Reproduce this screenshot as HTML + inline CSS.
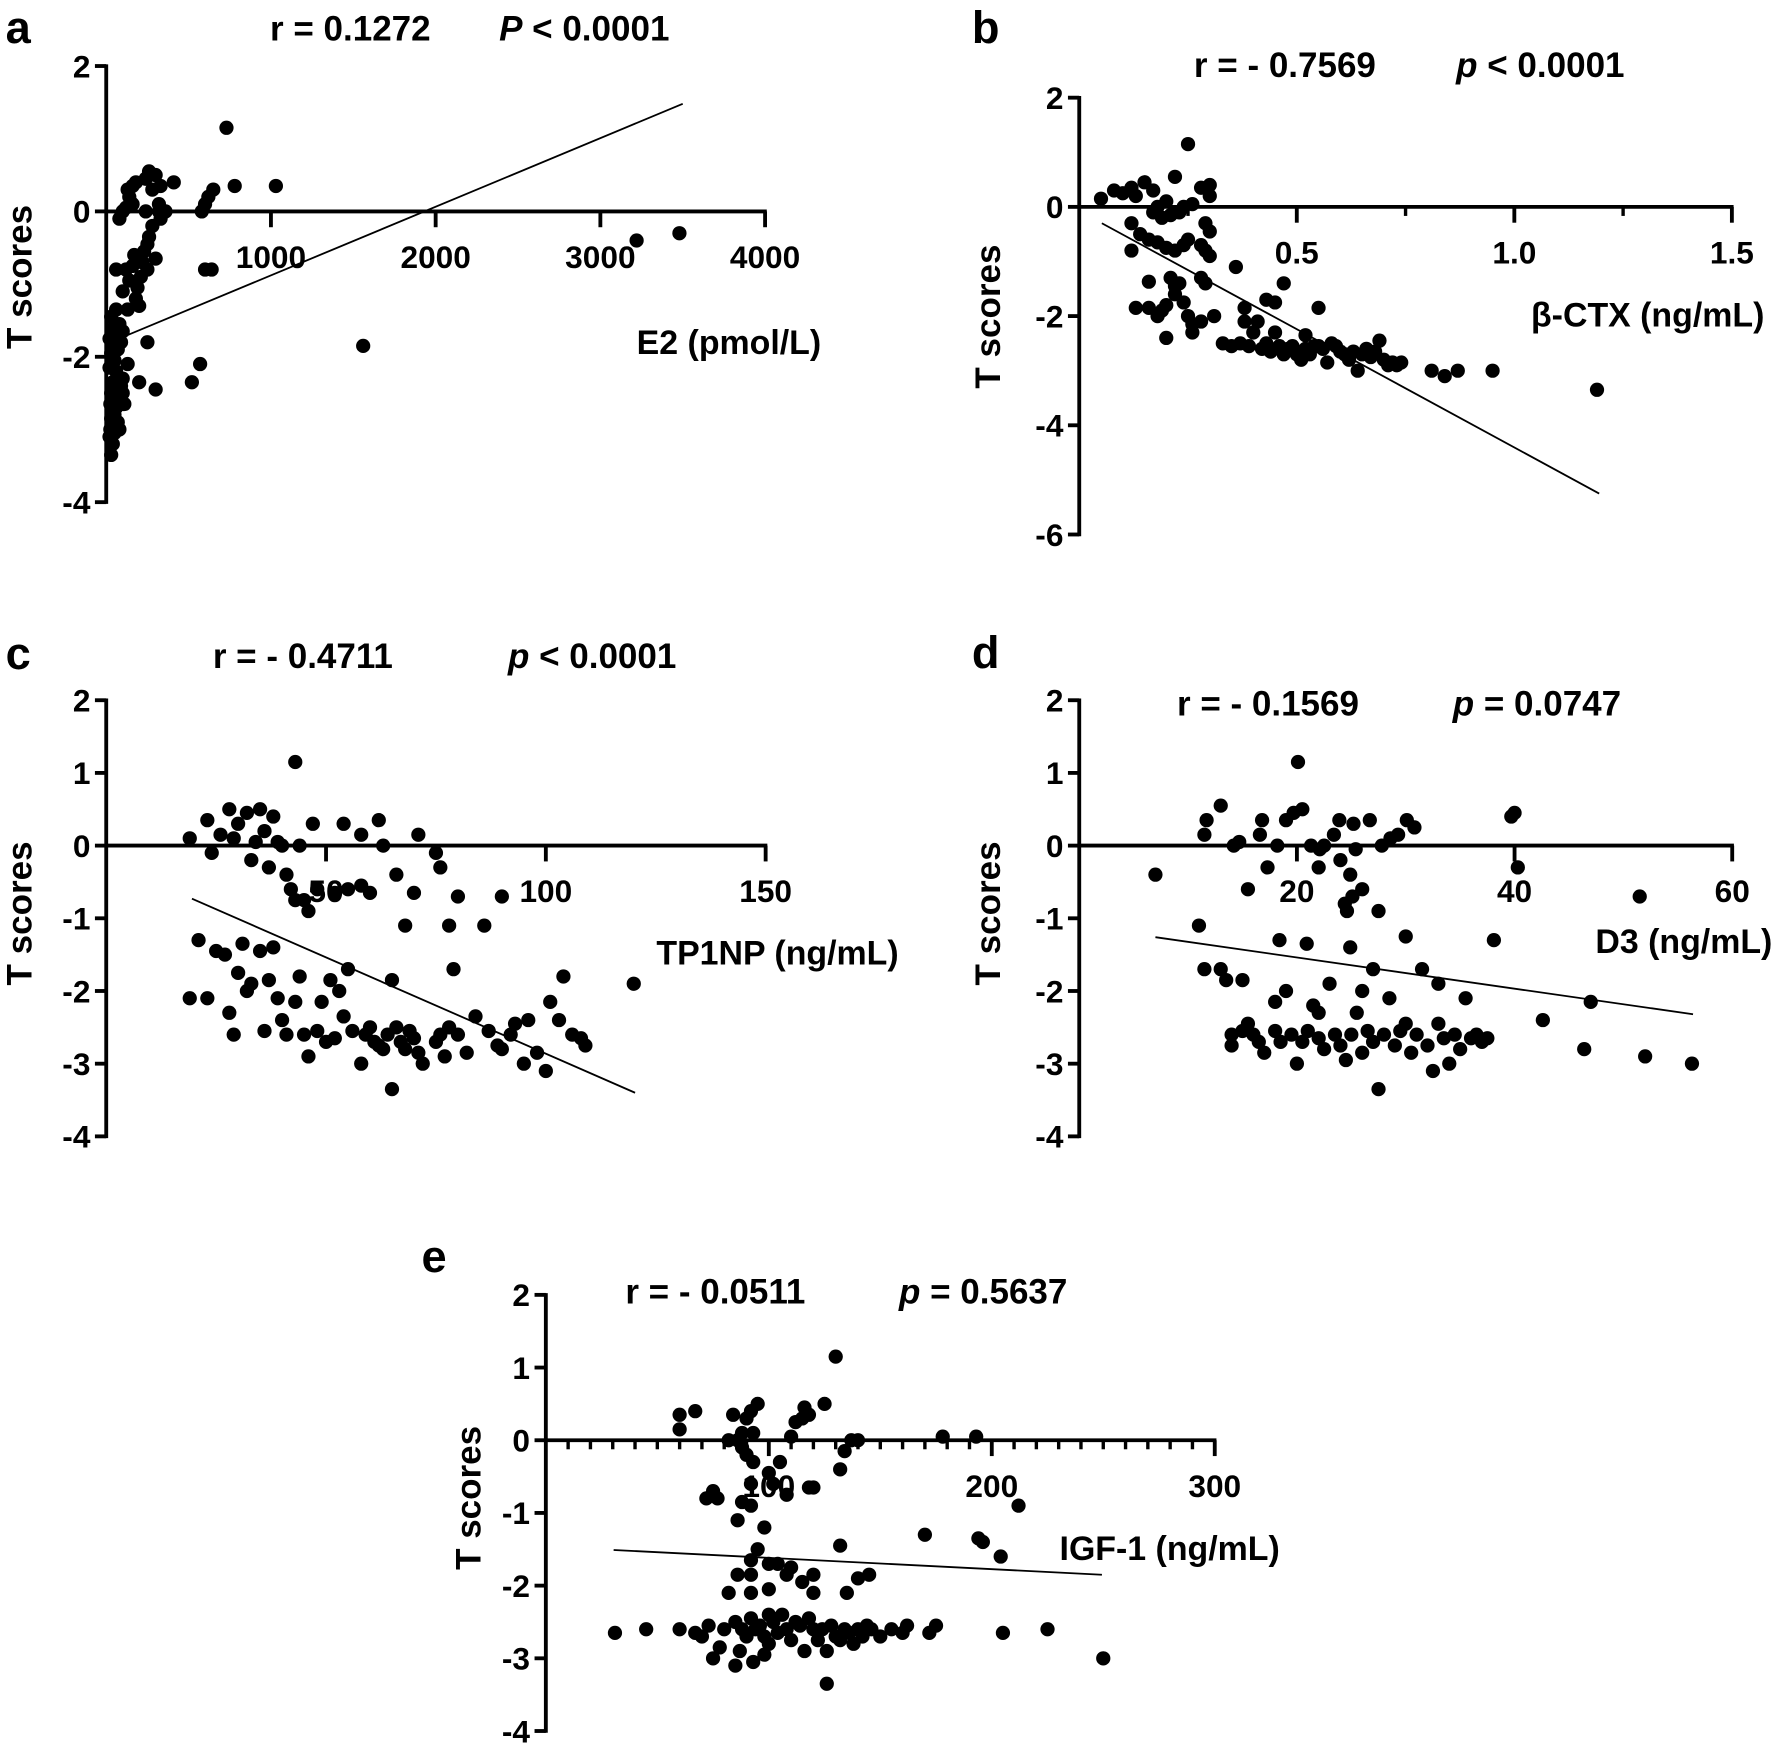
<!DOCTYPE html>
<html><head><meta charset="utf-8"><style>
html,body{margin:0;padding:0;background:#fff;}
svg{display:block;}
text{font-family:"Liberation Sans",Arial,sans-serif;font-weight:bold;fill:#000;}
</style></head><body>
<svg id="fig" width="1772" height="1750" viewBox="0 0 1568 1548" preserveAspectRatio="none" xmlns="http://www.w3.org/2000/svg"></svg>
<script>
// ---- Panel a: E2 ----
const aX=[30,20,25,40,30,50,35,60,25,45,70,30,55,80,40,90,100,60,20,130,50,30,70,40,90,20,60,100,45,80,30,60,130,200,180,100,190,140,210,60,120,160,250,220,300,170,230,250,260,280,330,80,100,120,160,140,130,160,180,330,300,240,260,280,240,320,360,410,320,580,600,620,650,600,640,730,780,1030,250,200,300,520,570,1560,3220,3480,40,50,70,80,60,100,110];
const aY=[-3.35,-3.1,-3.0,-2.95,-2.85,-2.8,-2.75,-2.7,-2.65,-2.6,-2.55,-2.5,-2.45,-2.4,-2.35,-2.4,-2.3,-2.2,-2.15,-2.1,-2.05,-1.95,-1.9,-1.85,-1.8,-1.75,-1.7,-1.65,-1.6,-1.55,-1.45,-1.35,-1.35,-1.3,-1.2,-1.1,-1.05,-0.95,-0.9,-0.8,-0.8,-0.75,-0.8,-0.7,-0.65,-0.6,-0.55,-0.45,-0.35,-0.2,-0.1,-0.1,0.0,0.05,0.1,0.2,0.3,0.35,0.4,0.35,0.5,0.45,0.55,0.3,0.0,0.0,0.0,0.4,0.1,0.0,0.1,0.2,0.3,-0.8,-0.8,1.15,0.35,0.35,-1.8,-2.35,-2.45,-2.35,-2.1,-1.85,-0.4,-0.3,-3.2,-3.05,-2.9,-3.0,-2.6,-2.5,-2.65];
const aRegX=[110,3500], aRegY=[-1.72,1.48];
const aXTicks=[1000,2000,3000,4000], aYTicks=[2,0,-2,-4];
// ---- Panel b: beta-CTX ----
const bX=[0.05,0.08,0.1,0.12,0.13,0.15,0.17,0.18,0.2,0.22,0.23,0.24,0.26,0.28,0.3,0.3,0.25,0.12,0.12,0.14,0.16,0.18,0.2,0.22,0.24,0.25,0.28,0.29,0.3,0.29,0.3,0.19,0.17,0.21,0.16,0.13,0.16,0.18,0.19,0.2,0.21,0.22,0.22,0.23,0.24,0.25,0.26,0.26,0.28,0.28,0.29,0.31,0.2,0.33,0.35,0.37,0.39,0.36,0.38,0.38,0.4,0.41,0.42,0.43,0.43,0.44,0.45,0.45,0.46,0.47,0.47,0.48,0.49,0.5,0.51,0.52,0.52,0.53,0.54,0.55,0.55,0.56,0.57,0.58,0.59,0.6,0.61,0.62,0.63,0.64,0.65,0.66,0.67,0.68,0.69,0.7,0.71,0.72,0.73,0.74,0.81,0.84,0.87,0.95,1.19];
const bY=[0.15,0.3,0.25,0.35,0.2,0.45,0.3,0.0,0.1,0.55,-0.1,0.0,0.05,0.35,0.4,0.2,1.15,-0.3,-0.8,-0.5,-0.6,-0.65,-0.75,-0.8,-0.7,-0.6,-0.7,-0.8,-0.9,-0.3,-0.45,-0.2,-0.1,-0.15,-1.37,-1.85,-1.85,-2.0,-1.9,-1.8,-1.3,-1.45,-1.6,-1.4,-1.75,-2.0,-2.15,-2.3,-2.1,-1.3,-1.4,-2.0,-2.4,-2.5,-2.55,-2.5,-2.55,-1.1,-2.1,-1.85,-2.3,-2.1,-2.6,-2.5,-1.7,-2.65,-1.75,-2.3,-2.55,-2.7,-1.4,-2.6,-2.55,-2.7,-2.8,-2.6,-2.35,-2.7,-2.55,-1.85,-2.55,-2.6,-2.85,-2.5,-2.55,-2.65,-2.7,-2.8,-2.65,-3.0,-2.7,-2.6,-2.75,-2.65,-2.45,-2.8,-2.9,-2.85,-2.9,-2.85,-3.0,-3.1,-3.0,-3.0,-3.35];
const bRegX=[0.052,1.195], bRegY=[-0.3,-5.25];
const bXTicks=[0.5,1.0,1.5], bXMinor=[0.25,0.75,1.25], bYTicks=[2,0,-2,-4,-6];
// ---- Panel c: TP1NP ----
const cX=[19,23,24,26,28,29,30,32,33,34,35,36,37,38,39,40,41,42,43,44,45,46,43,47,48,52,54,55,58,58,60,62,63,66,68,70,71,75,76,78,80,19,21,23,25,27,28,29,30,31,32,33,35,36,37,38,39,40,41,43,44,45,46,48,49,50,51,52,53,54,55,56,58,59,60,61,62,63,64,65,66,67,68,69,70,71,72,65,75,76,77,78,79,80,82,84,87,89,90,92,93,95,96,98,100,101,103,106,109,108,104,120,86,90];
const cY=[0.1,0.35,-0.1,0.15,0.5,0.1,0.3,0.45,-0.2,0.05,0.5,0.2,-0.3,0.4,0.05,0.0,-0.4,-0.6,1.15,0.0,-0.75,-0.9,-0.75,0.3,-0.6,-0.65,0.3,-0.6,0.15,-0.55,-0.65,0.35,0.0,-0.4,-1.1,-0.65,0.15,-0.1,-0.3,-1.1,-0.7,-2.1,-1.3,-2.1,-1.45,-1.5,-2.3,-2.6,-1.75,-1.35,-2.0,-1.9,-1.45,-2.55,-1.85,-1.4,-2.1,-2.4,-2.6,-2.15,-1.8,-2.6,-2.9,-2.55,-2.15,-2.7,-1.85,-2.65,-2.0,-2.35,-1.7,-2.55,-3.0,-2.6,-2.5,-2.7,-2.75,-2.8,-2.6,-1.85,-2.5,-2.7,-2.8,-2.55,-2.65,-2.85,-3.0,-3.35,-2.7,-2.6,-2.9,-2.5,-1.7,-2.6,-2.85,-2.35,-2.55,-2.75,-2.8,-2.6,-2.45,-3.0,-2.4,-2.85,-3.1,-2.15,-2.4,-2.6,-2.75,-2.65,-1.8,-1.9,-1.1,-0.7];
const cRegX=[19.5,120.3], cRegY=[-0.73,-3.4];
const cXTicks=[50,100,150], cYTicks=[2,1,0,-1,-2,-3,-4];
// ---- Panel d: D3 ----
const dX=[7,11.5,11.7,13,14.2,14.7,15.5,16.6,16.8,17.3,18.2,19,19.7,20.1,20.5,21.3,22.1,22.5,23.4,23.9,24.4,24.6,25.1,25.2,24,24.9,25.4,26.7,27.5,27.8,28.6,29.3,30.1,30.8,22,26,18.4,20.9,24.9,40,39.7,40.3,38.1,51.5,11,11.5,13,13.5,14,14,15,15.5,16,16.5,17,18,18.5,19,19.5,20,20.5,21,21.5,22,22.5,23,23.5,24,24.5,25,25.5,26,26.5,27,27,27.5,28,28.5,29,29.5,30,30,30.5,31,31.5,32,32.5,33,33,33.5,34,34.5,35,35.5,36,36.5,37,37.5,26,22,18,15,42.6,46.4,47,52,56.3];
const dY=[-0.4,0.15,0.35,0.55,0.0,0.05,-0.6,0.15,0.35,-0.3,0.0,0.35,0.45,1.15,0.5,0.0,-0.05,0.0,0.15,0.35,-0.8,-0.9,-0.7,0.3,-0.2,-0.4,-0.05,0.35,-0.9,0.0,0.1,0.15,0.35,0.25,-0.3,-0.6,-1.3,-1.35,-1.4,0.45,0.4,-0.3,-1.3,-0.7,-1.1,-1.7,-1.7,-1.85,-2.6,-2.75,-1.85,-2.45,-2.6,-2.7,-2.85,-2.55,-2.7,-2.0,-2.6,-3.0,-2.7,-2.55,-2.2,-2.65,-2.8,-1.9,-2.6,-2.75,-2.95,-2.6,-2.3,-2.85,-2.55,-1.7,-2.7,-3.35,-2.6,-2.1,-2.75,-2.55,-1.25,-2.45,-2.85,-2.6,-1.7,-2.75,-3.1,-2.45,-1.9,-2.65,-3.0,-2.6,-2.8,-2.1,-2.65,-2.6,-2.7,-2.65,-2.0,-2.3,-2.15,-2.55,-2.4,-2.8,-2.15,-2.9,-3.0];
const dRegX=[7.0,56.4], dRegY=[-1.26,-2.32];
const dXTicks=[20,40,60], dYTicks=[2,1,0,-1,-2,-3,-4];
// ---- Panel e: IGF-1 ----
const eX=[31,45,60,60,67,60,67,70,73,75,78,72,75,77,84,82,86,90,92,95,93,88,88,90,93,92,100,102,105,110,112,115,116,118,125,130,108,118,120,132,134,137,140,86,88,92,86,95,92,98,132,92,100,104,108,110,115,120,140,145,82,92,100,120,135,80,85,88,90,92,94,96,98,100,102,104,106,108,110,112,114,116,118,120,122,124,126,128,130,132,134,136,138,140,142,144,146,150,155,160,162,87,93,85,98,126,100,170,175,172,178,193,194,196,204,212,205,225,250];
const eY=[-2.65,-2.6,0.15,0.35,0.4,-2.6,-2.65,-2.7,-2.55,-3.0,-2.85,-0.8,-0.7,-0.8,0.35,0.0,0.0,0.3,0.4,0.5,0.1,0.1,-0.1,-0.2,-0.3,-0.6,-0.45,-0.6,-0.3,0.05,0.25,0.3,0.45,0.35,0.5,1.15,-0.75,-0.65,-0.65,-0.4,-0.15,0.0,0.0,-1.1,-0.85,-0.9,-1.85,-1.5,-1.65,-1.2,-1.45,-1.85,-1.7,-1.7,-1.85,-1.75,-1.95,-1.85,-1.9,-1.85,-2.1,-2.1,-2.05,-2.1,-2.1,-2.6,-2.5,-2.6,-2.7,-2.45,-2.6,-2.55,-2.7,-2.8,-2.5,-2.65,-2.4,-2.6,-2.75,-2.5,-2.55,-2.9,-2.45,-2.6,-2.75,-2.6,-2.9,-2.55,-2.7,-2.75,-2.6,-2.65,-2.8,-2.6,-2.7,-2.55,-2.6,-2.7,-2.6,-2.65,-2.55,-2.9,-3.05,-3.1,-2.95,-3.35,-2.4,-1.3,-2.55,-2.65,0.05,0.05,-1.35,-1.4,-1.6,-0.9,-2.65,-2.6,-3.0];
const eRegX=[30.4,249.4], eRegY=[-1.51,-1.85];
const eXTicks=[100,200,300], eYTicks=[2,1,0,-1,-2,-3,-4];
const eXMinor=[]; for(let v=10;v<300;v+=10){ if(v%100) eXMinor.push(v); }

const NS="http://www.w3.org/2000/svg";
const svg=document.getElementById('fig');
function mk(tag,attrs,parent){const e=document.createElementNS(NS,tag);for(const k in attrs)e.setAttribute(k,attrs[k]);(parent||svg).appendChild(e);return e;}
function txt(s,x,y,size,parent,anchor,extra){const t=mk('text',Object.assign({x:x,y:y,'font-size':size,'text-anchor':anchor||'middle'},extra||{}),parent);t.textContent=s;return t;}

function panel(id,cfg){
  const g=mk('g',{});
  
  
  const sx=v=>cfg.ox+v*cfg.xs, sy=v=>cfg.oy-v*cfg.ys;
  const ya=mk('line',{x1:cfg.ox,y1:sy(cfg.yTicks[0])-1.5,x2:cfg.ox,y2:sy(cfg.yTicks[cfg.yTicks.length-1])+1.5,stroke:'#000','stroke-width':3.4},g);
  
  
  cfg.yTicks.forEach(v=>{
    mk('line',{x1:cfg.ox-10,y1:sy(v),x2:cfg.ox,y2:sy(v),stroke:'#000','stroke-width':3.4},g);
    const t=txt(String(v),cfg.ox-14,sy(v)+10,28,g,'end');
    
    
  });
  const xa=mk('line',{x1:cfg.ox,y1:cfg.oy,x2:sx(cfg.xTicks[cfg.xTicks.length-1])+1.5,y2:cfg.oy,stroke:'#000','stroke-width':3.4},g);
  
  
  (cfg.xMinor||[]).forEach(v=>{mk('line',{x1:sx(v),y1:cfg.oy,x2:sx(v),y2:cfg.oy+8,stroke:'#000','stroke-width':3},g);});
  cfg.xTicks.forEach(v=>{
    mk('line',{x1:sx(v),y1:cfg.oy,x2:sx(v),y2:cfg.oy+14,stroke:'#000','stroke-width':3.4},g);
    const t=txt(cfg.fmt?cfg.fmt(v):String(v),sx(v),cfg.oy+50,28,g,'middle');
    
    
  });
  cfg.X.forEach((x,i)=>{
    const c=mk('circle',{cx:sx(x),cy:sy(cfg.Y[i]),r:6.3,fill:'#000'},g);
    
    
  });
  const rl=mk('line',{x1:sx(cfg.rX[0]),y1:sy(cfg.rY[0]),x2:sx(cfg.rX[1]),y2:sy(cfg.rY[1]),stroke:'#000','stroke-width':1.6},g);
  
  
  const xl=txt(cfg.xlabel,cfg.xlab[0],cfg.xlab[1],30,g,'middle');
  
  
  const yl=txt('T scores',0,0,31,g,'middle',{transform:'translate('+cfg.ylab[0]+','+cfg.ylab[1]+') rotate(-90)'});
  
  
  const lt=txt(id,cfg.letter[0],cfg.letter[1],40,g,'start');
  
  
  const r=txt(cfg.r,cfg.rpos[0],cfg.rpos[1],31,g,'middle');
  
  
  const p=mk('text',{x:cfg.ppos[0],y:cfg.rpos[1],'font-size':31,'text-anchor':'middle'},g);
  
  
  const pi=mk('tspan',{'font-style':'italic'},p); pi.textContent=cfg.pl;
  const pr=mk('tspan',{},p); pr.textContent=cfg.pv;
}
panel('a',{ox:94,oy:187,xs:583/4000,ys:64.3,X:aX,Y:aY,rX:aRegX,rY:aRegY,xTicks:aXTicks,yTicks:aYTicks,
  xlabel:'E2 (pmol/L)',xlab:[645,313],ylab:[28,245],letter:[5,38],r:'r = 0.1272',rpos:[310,36],ppos:[517],pl:'P',pv:' < 0.0001'});
panel('b',{ox:955,oy:183,xs:385,ys:48.3,X:bX,Y:bY,rX:bRegX,rY:bRegY,xTicks:bXTicks,xMinor:bXMinor,yTicks:bYTicks,fmt:v=>v.toFixed(1),
  xlabel:'β-CTX (ng/mL)',xlab:[1458,289],ylab:[885,280],letter:[860,38],r:'r = - 0.7569',rpos:[1137,68],ppos:[1363],pl:'p',pv:' < 0.0001'});
panel('c',{ox:94,oy:748,xs:3.89,ys:64.3,X:cX,Y:cY,rX:cRegX,rY:cRegY,xTicks:cXTicks,yTicks:cYTicks,
  xlabel:'TP1NP (ng/mL)',xlab:[688,853],ylab:[28,808],letter:[5,592],r:'r = - 0.4711',rpos:[268,591],ppos:[524],pl:'p',pv:' < 0.0001'});
panel('d',{ox:955,oy:748,xs:9.63,ys:64.3,X:dX,Y:dY,rX:dRegX,rY:dRegY,xTicks:dXTicks,yTicks:dYTicks,
  xlabel:'D3 (ng/mL)',xlab:[1490,843],ylab:[885,808],letter:[860,591],r:'r = - 0.1569',rpos:[1122,633],ppos:[1360],pl:'p',pv:' = 0.0747'});
panel('e',{ox:483,oy:1274,xs:1.973,ys:64.3,X:eX,Y:eY,rX:eRegX,rY:eRegY,xTicks:eXTicks,xMinor:eXMinor,yTicks:eYTicks,
  xlabel:'IGF-1 (ng/mL)',xlab:[1035,1380],ylab:[425,1325],letter:[373,1125],r:'r = - 0.0511',rpos:[633,1153],ppos:[870],pl:'p',pv:' = 0.5637'});
</script>
</body></html>
